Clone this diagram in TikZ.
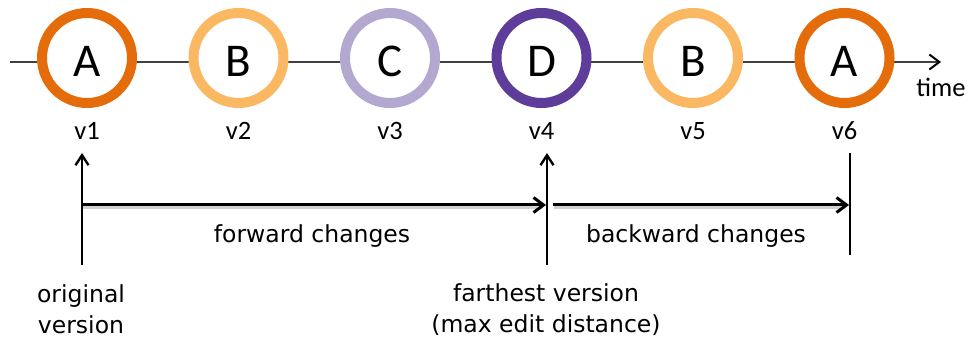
\documentclass[tikz,border=0pt]{standalone}
\usepackage{fontspec}
\setmainfont{Carlito}
\newfontfamily\lowfont{DejaVu Sans}
\usetikzlibrary{arrows.meta}
\definecolor{orgA}{HTML}{E46C0A}
\definecolor{orgB}{HTML}{FBB862}
\definecolor{lavC}{HTML}{B2A8D0}
\definecolor{purD}{HTML}{5E3C99}
\definecolor{tline}{HTML}{404040}
\tikzset{
  ring/.style={circle, draw=#1, line width=10pt, fill=white, minimum size=90pt, inner sep=0pt},
  letter/.style={anchor=base, font=\fontsize{47}{56}\selectfont, inner sep=0pt},
  vlabel/.style={anchor=base, font=\fontsize{26.5}{30}\selectfont, inner sep=0pt},
  lowtext/.style={anchor=base, font=\lowfont\fontsize{23.5}{31}\selectfont, inner sep=0pt, align=center},
  timeline/.style={draw=tline, line width=1.3pt, -{Straight Barb[length=10pt,width=15pt,line width=2pt,color=black]}},
  bigarrow/.style={line width=3pt, -{Straight Barb[length=10pt,width=15pt,line width=3pt]}},
  shadowline/.style={line width=3.5pt, draw=black, opacity=0.18},
  thinarrow/.style={line width=1.3pt, -{Straight Barb[length=10pt,width=13pt,line width=2.4pt]}},
  thinline/.style={line width=1.3pt}
}
\begin{document}
\begin{tikzpicture}[x=1pt,y=-1pt]
\useasboundingbox (0,0) rectangle (969,339);
% timeline
\coordinate (ts) at (10,62);
\coordinate (te) at (941,62);
\draw[timeline] (ts) -- (te);
\node[vlabel] (time) at (941,97) {time};
% circles
\node[ring=orgA] (c1) at (87,58) {};
\node[ring=orgB] (c2) at (238.5,58) {};
\node[ring=lavC] (c3) at (390,58) {};
\node[ring=purD] (c4) at (541.5,58) {};
\node[ring=orgB] (c5) at (693,58) {};
\node[ring=orgA] (c6) at (844.5,58) {};
\node[letter] (l1) at (87,77) {A};
\node[letter] (l2) at (238.5,77) {B};
\node[letter] (l3) at (390,77) {C};
\node[letter] (l4) at (541.5,77) {D};
\node[letter] (l5) at (693,77) {B};
\node[letter] (l6) at (844.5,77) {A};
% version labels
\node[vlabel] (v1) at (87,140) {v1};
\node[vlabel] (v2) at (238.5,140) {v2};
\node[vlabel] (v3) at (390,140) {v3};
\node[vlabel] (v4) at (541.5,140) {v4};
\node[vlabel] (v5) at (693,140) {v5};
\node[vlabel] (v6) at (844.5,140) {v6};
% bottom coordinates
\coordinate (o1b) at (82,265);
\coordinate (o1t) at (82,153);
\coordinate (o4b) at (547,265);
\coordinate (o4t) at (547,153);
\coordinate (o6b) at (850,255);
\coordinate (o6t) at (850,153);
\coordinate (fs) at (82,205);
\coordinate (fe) at (546,205);
\coordinate (bs) at (553,205);
\coordinate (be) at (849,205);
% shadows
\draw[shadowline] ([shift={(1,2)}]fs) -- ([shift={(-4,2)}]fe);
\draw[shadowline] ([shift={(1,2)}]bs) -- ([shift={(-4,2)}]be);
% arrows
\draw[bigarrow] (fs) -- (fe);
\draw[bigarrow] (bs) -- (be);
\draw[thinarrow] (o1b) -- (o1t);
\draw[thinarrow] (o4b) -- (o4t);
\draw[thinline] (o6b) -- (o6t);
% texts
\node[lowtext] (fw) at (312,243) {forward changes};
\node[lowtext] (bw) at (696,243) {backward changes};
\node[lowtext] (orig) at (81,333) {original\\version};
\node[lowtext] (far) at (546,332) {farthest version\\(max edit distance)};
\end{tikzpicture}
\end{document}
